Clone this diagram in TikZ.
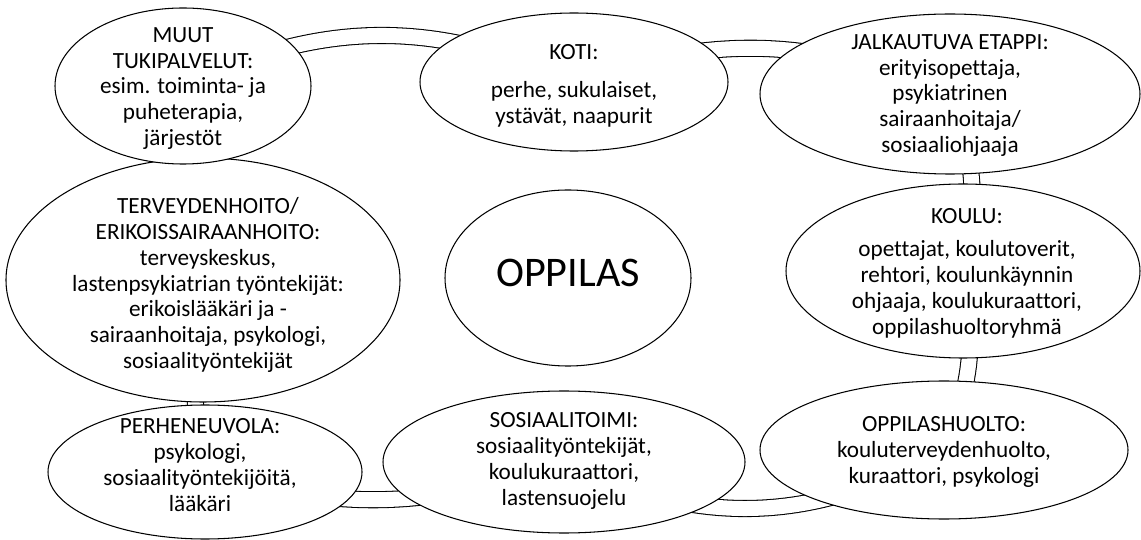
\documentclass[tikz,border=0pt]{standalone}
\usepackage{fontspec}
\setmainfont{Carlito}[Ligatures={NoCommon}]
\usetikzlibrary{shapes.geometric,backgrounds}
\tikzstyle{oval}=[ellipse, draw=black, fill=white, line width=0.6pt, inner sep=0pt]
\tikzstyle{annot}=[align=center, inner sep=0pt, font=\fontsize{13.2}{14.7}\selectfont]
\tikzstyle{tube}=[draw=black, line width=0.6pt, double=white, double distance=0.3cm]

\begin{document}
\begin{tikzpicture}
	\useasboundingbox (0,0) rectangle (22.82,-10.8);

	% the bubbles
	\node[oval, minimum width=7.88cm, minimum height=4.88cm](terv) at (4.06,-5.6){};
	\node[oval, minimum width=5.12cm, minimum height=3.12cm](muut) at (3.66,-1.72){};
	\node[oval, minimum width=6.16cm, minimum height=2.76cm](koti) at (11.48,-1.64){};
	\node[oval, minimum width=7.6cm, minimum height=3.2cm](jalk) at (19.0,-1.88){};
	\node[oval, minimum width=4.92cm, minimum height=3.52cm](oppilas) at (11.36,-5.56){};
	\node[oval, minimum width=7.08cm, minimum height=3.48cm](koulu) at (19.26,-5.42){};
	\node[oval, minimum width=6.28cm, minimum height=2.68cm](perh) at (4.1,-9.44){};
	\node[oval, minimum width=7.24cm, minimum height=2.84cm](sos) at (11.28,-9.24){};
	\node[oval, minimum width=7.36cm, minimum height=2.76cm](opph) at (18.88,-9.0){};

	% texts
	\node[annot](muut text) at ([yshift=-0.05cm]muut){MUUT\\TUKIPALVELUT:\\esim. toiminta- ja\\puheterapia,\\järjestöt};
	\node[annot](koti text) at ([yshift=-0.08cm]koti){KOTI:\\[7pt]perhe, sukulaiset,\\ystävät, naapurit};
	\node[annot](jalk text) at ([yshift=-0.03cm]jalk){JALKAUTUVA ETAPPI:\\erityisopettaja,\\psykiatrinen\\sairaanhoitaja/\\sosiaaliohjaaja};
	\node[annot](terv text) at ([xshift=0.1cm, yshift=-0.1cm]terv){TERVEYDENHOITO/\\ERIKOISSAIRAANHOITO:\\terveyskeskus,\\lastenpsykiatrian työntekijät:\\erikoislääkäri ja -\\sairaanhoitaja, psykologi,\\sosiaalityöntekijät};
	\node[annot, font=\fontsize{24}{28}\selectfont](oppilas text) at ([yshift=0.1cm]oppilas){OPPILAS};
	\node[annot](koulu text) at ([xshift=0.08cm, yshift=-0.05cm]koulu){KOULU:\\[4pt]opettajat, koulutoverit,\\rehtori, koulunkäynnin\\ohjaaja, koulukuraattori,\\oppilashuoltoryhmä};
	\node[annot](perh text) at ([xshift=-0.1cm, yshift=0.14cm]perh){PERHENEUVOLA:\\psykologi,\\sosiaalityöntekijöitä,\\lääkäri};
	\node[annot](sos text) at ([yshift=0.02cm]sos){SOSIAALITOIMI:\\sosiaalityöntekijät,\\koulukuraattori,\\lastensuojelu};
	\node[annot](opph text) at ([yshift=-0.04cm]opph){OPPILASHUOLTO:\\kouluterveydenhuolto,\\kuraattori, psykologi};

	% the ring behind them
	\begin{scope}[on background layer]
		\draw[tube] (muut.center) to[bend left=25] (koti.center);
		\draw[tube] (koti.center) to[bend left=21] (jalk.center);
		\draw[tube] (jalk.center) to[bend left=17] (koulu.center);
		\draw[tube] (koulu.center) to[bend left=17] (opph.center);
		\draw[tube] (opph.center) to[bend left=28] (sos.center);
		\draw[tube] (sos.center) to[bend left=18] (perh.center);
		\draw[tube] (perh.center) to[bend left=10] (terv.center);
	\end{scope}
\end{tikzpicture}
\end{document}
